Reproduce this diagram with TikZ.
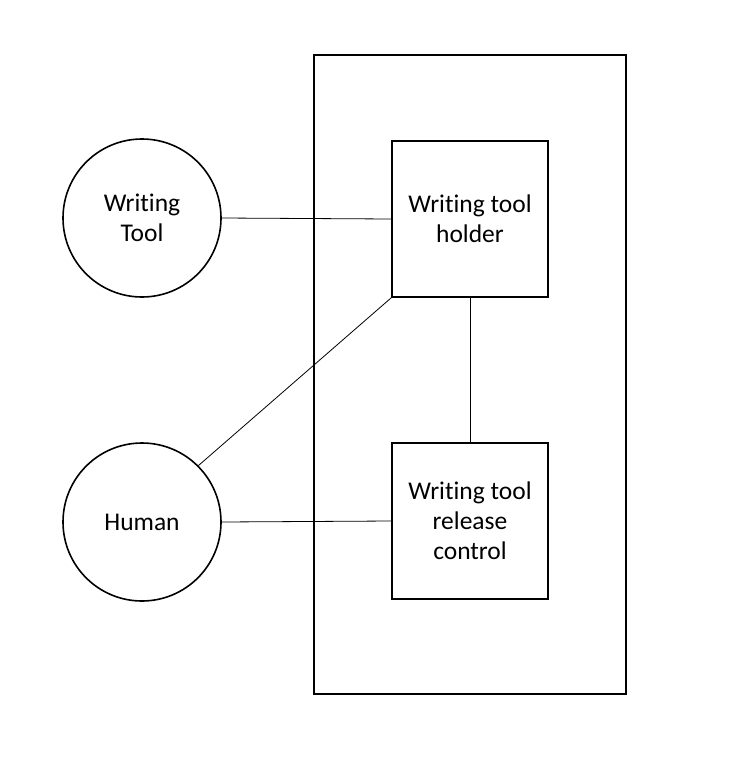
\documentclass[tikz,border=0pt]{standalone}
\usepackage{fontspec}
\setmainfont{Carlito}[Ligatures={NoCommon}]
\begin{document}
\begin{tikzpicture}[x=1pt,y=-1pt,
  shapebox/.style={draw,line width=1.6pt,minimum width=156pt,minimum height=156pt,inner sep=0pt,align=center,font=\fontsize{25.5}{30}\selectfont},
  shapecirc/.style={draw,circle,line width=1.6pt,minimum size=158pt,inner sep=0pt,align=center,font=\fontsize{25.5}{30}\selectfont},
  conn/.style={line width=0.8pt}]
\useasboundingbox (0,0) rectangle (738,764);
\node[draw,line width=1.6pt,minimum width=312pt,minimum height=639pt,inner sep=0pt] (frame) at (470,374.5) {};
\node[shapebox] (holder) at (470,219) {Writing tool\\holder};
\node[shapebox] (release) at (470,521) {Writing tool\\release\\control};
\node[shapecirc] (tool) at (142,218) {Writing\\Tool};
\node[shapecirc] (human) at (142,522) {Human};
\draw[conn] (tool.east) -- (holder.west);
\draw[conn] (human.45) -- (holder.south west);
\draw[conn] (human.east) -- (release.west);
\draw[conn] (holder.south) -- (release.north);
\end{tikzpicture}
\end{document}
